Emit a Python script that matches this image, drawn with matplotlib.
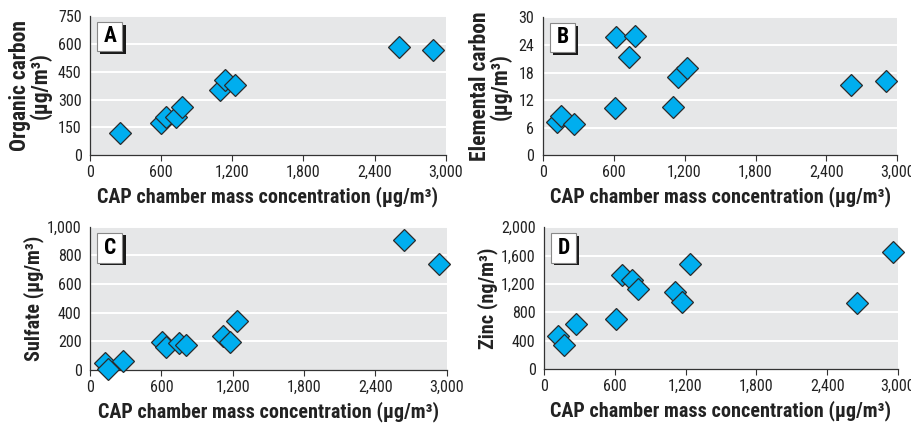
import matplotlib
matplotlib.use('Agg')
import matplotlib.pyplot as plt
from matplotlib.patches import Rectangle

plt.rcParams['font.family'] = ['Roboto Condensed', 'DejaVu Sans']

# CAP chamber mass concentration (x) and species (y)
cap_a = [253, 600, 639, 727, 775, 1093, 1141, 1220, 2606, 2893]
organic = [121, 172, 204, 204, 257, 352, 403, 380, 582, 569]

cap_b = [121, 152, 262, 610, 624, 785, 728, 1101, 1146, 1222, 2611, 2901]
elemental = [7.3, 8.5, 6.7, 10.2, 25.7, 25.9, 21.3, 10.5, 17.0, 19.0, 15.2, 16.1]

cap_c = [126, 154, 275, 608, 639, 749, 805, 1121, 1177, 1234, 2641, 2938]
sulfate = [51, 7, 63, 192, 164, 187, 173, 239, 192, 344, 906, 742]

cap_d = [119, 167, 268, 613, 661, 746, 797, 1113, 1169, 1234, 2655, 2958]
zinc = [467, 340, 637, 703, 1330, 1259, 1132, 1080, 943, 1486, 929, 1646]

x_ticks = [0, 600, 1200, 1800, 2400, 3000]
x_title = 'CAP chamber mass concentration (μg/m³)'

panels = [
    ('A', cap_a, organic, [0, 150, 300, 450, 600, 750], 'Organic carbon\n(μg/m³)',
     [0.0987, 0.636, 0.390, 0.326], -0.108, 15.5),
    ('B', cap_b, elemental, [0, 6, 12, 18, 24, 30], 'Elemental carbon\n(μg/m³)',
     [0.595, 0.636, 0.389, 0.323], -0.086, 15.5),
    ('C', cap_c, sulfate, [0, 200, 400, 600, 800, 1000], 'Sulfate (μg/m³)',
     [0.0987, 0.1315, 0.391, 0.336], -0.13, 14.5),
    ('D', cap_d, zinc, [0, 400, 800, 1200, 1600, 2000], 'Zinc (ng/m³)',
     [0.5965, 0.1338, 0.388, 0.333], -0.13, 14.5),
]

fig = plt.figure(figsize=(9.12, 4.26), dpi=100)

for letter, xs, ys, yticks, ylab, pos, lab_x, lab_size in panels:
    ax = fig.add_axes(pos)
    ax.set_facecolor('#e6e7e8')
    ax.set_xlim(0, 3000)
    ax.set_ylim(0, yticks[-1])
    ax.set_xticks(x_ticks)
    ax.set_yticks(yticks)
    ax.set_xticklabels(['{:,}'.format(t) for t in x_ticks])
    ax.set_yticklabels(['{:,}'.format(t) for t in yticks])
    ax.tick_params(axis='x', length=4, width=0.8, color='#333333', labelsize=11.5,
                   pad=3, labelcolor='#222222')
    ax.tick_params(axis='y', length=0, labelsize=11.5, pad=6, labelcolor='#222222')
    for t in yticks[1:]:
        ax.axhline(t, color='white', lw=1.4, zorder=1)
    for s in ['top', 'right']:
        ax.spines[s].set_visible(False)
    for s in ['left', 'bottom']:
        ax.spines[s].set_color('#333333')
        ax.spines[s].set_linewidth(0.9)

    ax.plot(xs, ys, 'D', ms=11, mfc='#00aeef', mec='#2b2b2b', mew=0.9,
            zorder=3, clip_on=False)

    ax.set_xlabel(x_title, fontsize=14.5, fontweight='bold', labelpad=5, color='#222222')
    ax.set_ylabel(ylab, fontsize=lab_size, fontweight='bold', linespacing=0.9,
                  color='#222222')
    ax.yaxis.set_label_coords(lab_x, 0.5)

    # letter box with shadow
    ax.add_patch(Rectangle((0.029, 0.73), 0.071, 0.21, transform=ax.transAxes,
                           facecolor='#1a1a1a', edgecolor='none', zorder=4))
    ax.add_patch(Rectangle((0.02, 0.75), 0.071, 0.21, transform=ax.transAxes,
                           facecolor='white', edgecolor='#888888', lw=0.8, zorder=5))
    ax.text(0.0555, 0.855, letter, transform=ax.transAxes, ha='center', va='center',
            fontsize=15.5, fontweight='bold', zorder=6)

fig.savefig('out.png', dpi=100)
